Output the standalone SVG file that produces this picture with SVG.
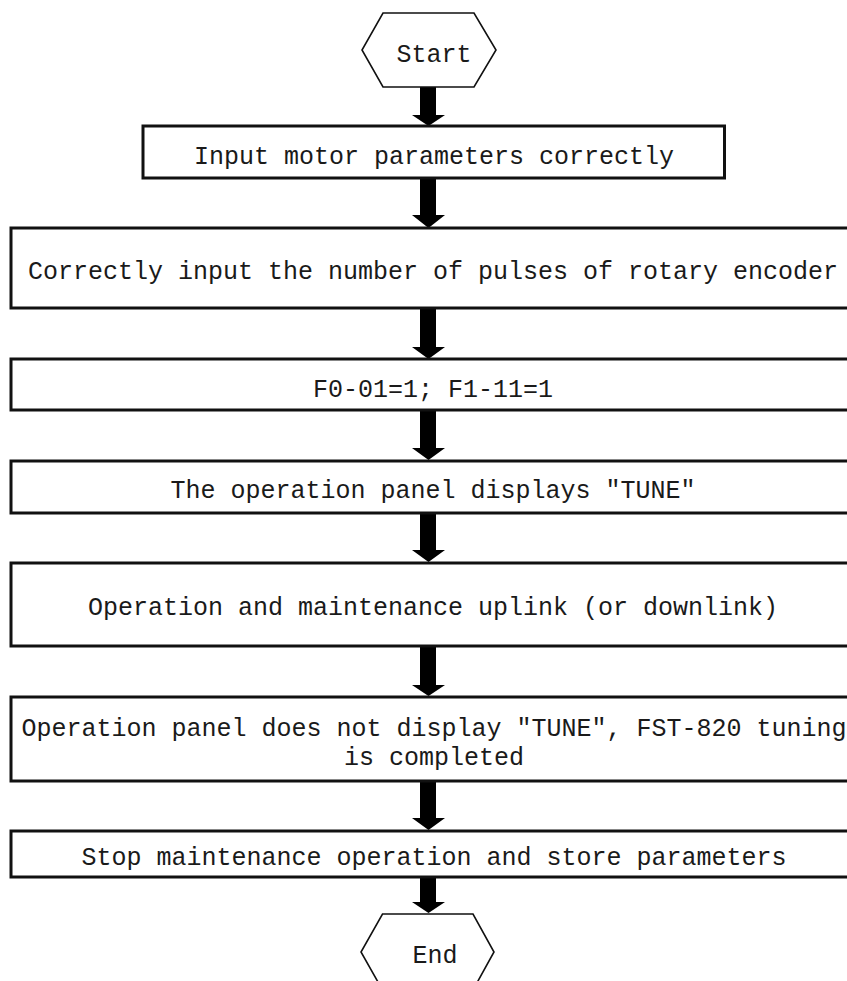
<svg xmlns="http://www.w3.org/2000/svg" width="847" height="981" viewBox="0 0 847 981">
<style>
.box{fill:#fff;stroke:#111;stroke-width:3}
.hex{fill:#fff;stroke:#111;stroke-width:1.6}
.t{font-family:"Liberation Mono","DejaVu Sans Mono",monospace;font-size:25px;fill:#1a1a1a;text-anchor:middle}
.arr{fill:#000}
</style>
<rect width="847" height="981" fill="#fff"/>
<g id="connectors">
<path class="arr" d="M420,87H436V115H445L428.5,126L412,115H420Z"/>
<path class="arr" d="M420,178H436V215H445L428.5,228L412,215H420Z"/>
<path class="arr" d="M420,308H436V347H445L428.5,359L412,347H420Z"/>
<path class="arr" d="M420,410H436V448H445L428.5,460L412,448H420Z"/>
<path class="arr" d="M420,513H436V550H445L428.5,562L412,550H420Z"/>
<path class="arr" d="M420,646H436V685H445L428.5,696L412,685H420Z"/>
<path class="arr" d="M420,781H436V818H445L428.5,830L412,818H420Z"/>
<path class="arr" d="M420,877H436V902H445L428.5,913L412,902H420Z"/>
</g>
<g id="start">
<polygon class="hex" points="383,13 474,13 496,50 474,87 383,87 362,50"/>
<text class="t" x="434" y="62">Start</text>
</g>
<g id="n1">
<rect class="box" x="143" y="126" width="581.5" height="52"/>
<text class="t" x="434" y="164">Input motor parameters correctly</text>
</g>
<g id="n2">
<rect class="box" x="11" y="228" width="850" height="80"/>
<text class="t" x="433" y="279">Correctly input the number of pulses of rotary encoder</text>
</g>
<g id="n3">
<rect class="box" x="11" y="359" width="850" height="51"/>
<text class="t" x="433" y="397">F0-01=1; F1-11=1</text>
</g>
<g id="n4">
<rect class="box" x="11" y="461" width="850" height="52"/>
<text class="t" x="433" y="498">The operation panel displays ″TUNE″</text>
</g>
<g id="n5">
<rect class="box" x="11" y="563" width="850" height="83"/>
<text class="t" x="433" y="615">Operation and maintenance uplink (or downlink)</text>
</g>
<g id="n6">
<rect class="box" x="11" y="697" width="850" height="84"/>
<text class="t" x="434" y="736">Operation panel does not display ″TUNE″, FST-820 tuning</text>
<text class="t" x="434" y="765">is completed</text>
</g>
<g id="n7">
<rect class="box" x="11" y="831" width="850" height="46"/>
<text class="t" x="434" y="865">Stop maintenance operation and store parameters</text>
</g>
<g id="end">
<polygon class="hex" points="382.5,914 473,914 494,952 473,990 382.5,990 361,952"/>
<text class="t" x="435" y="963">End</text>
</g>
</svg>
